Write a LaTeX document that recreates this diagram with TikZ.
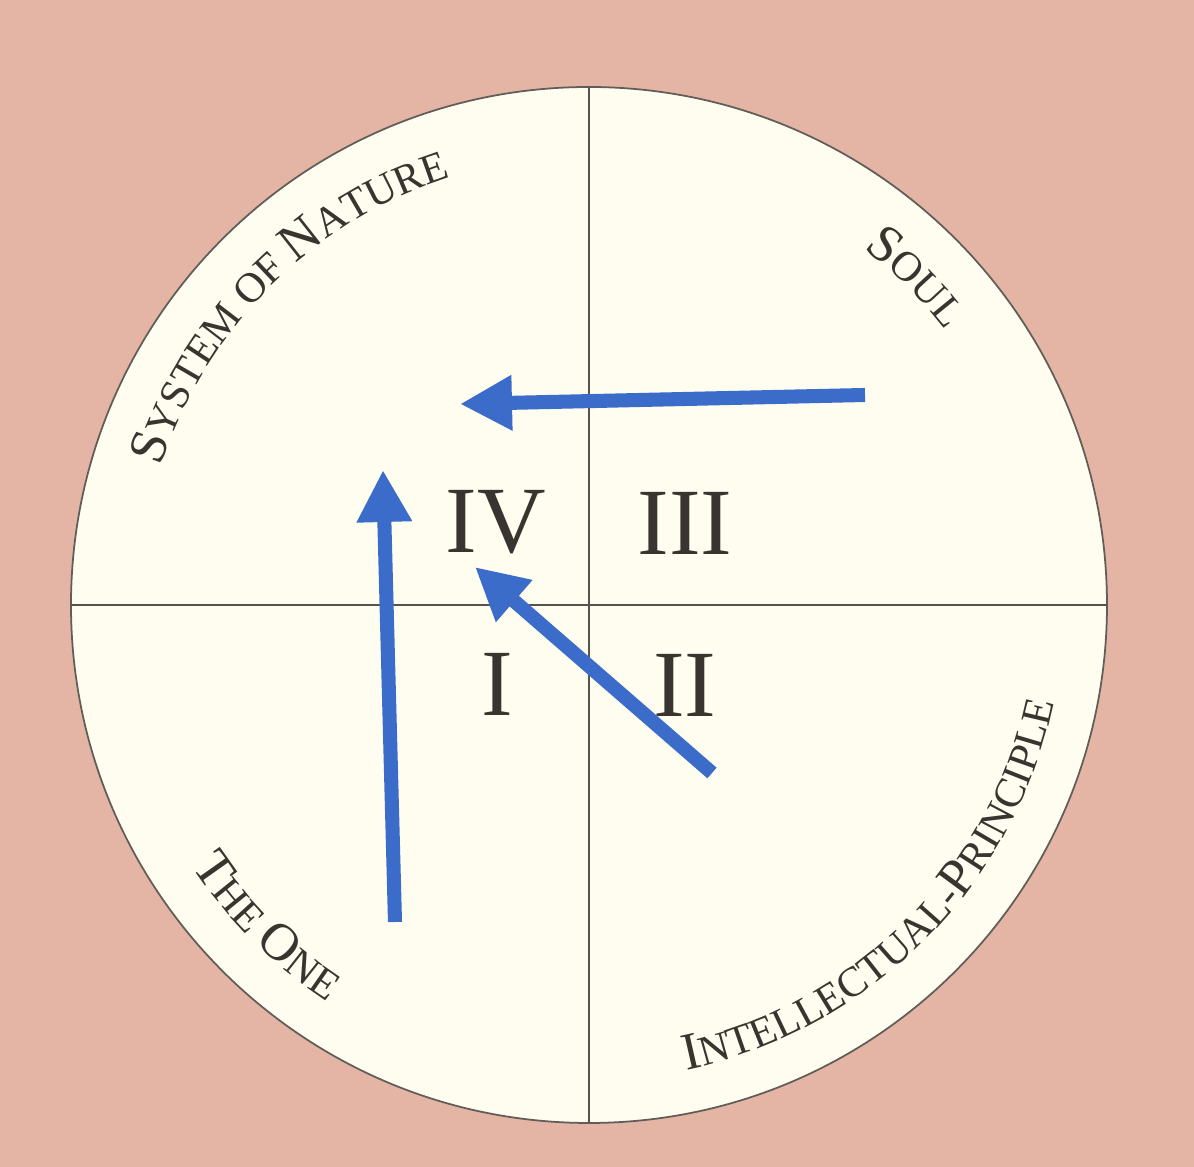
\documentclass[tikz,border=0pt]{standalone}
\usepackage{fontspec}
\setmainfont{Liberation Serif}
\usepackage{tikz}
\usetikzlibrary{arrows.meta, decorations.text}

\definecolor{paper}{RGB}{228,181,164}
\definecolor{cream}{RGB}{254,253,239}
\definecolor{ink}{RGB}{58,52,48}
\definecolor{flow}{RGB}{59,108,201}

% capitals and small capitals for the rim labels
\newcommand\rimcap{\fontsize{15}{18}\selectfont}
\newcommand\rimsmall{\fontsize{12}{14}\selectfont}

\begin{document}
\begin{tikzpicture}[
		rim/.style={draw=ink!80, line width=0.5pt, fill=cream},
		axis/.style={draw=ink!85, line width=0.6pt},
		num/.style={text=ink, font=\fontsize{27}{30}\selectfont, inner sep=0pt},
		flowarrow/.style={draw=flow, line width=4pt, -{Triangle[length=5.2mm, width=5.2mm]}},
		arctext/.style={decorate, decoration={text along path, text align=center,
				text color=ink, text={#1}}}
		]
		
		% Background
		\fill[paper] (-5.89,-5.62) rectangle (6.05,6.05);
		\useasboundingbox (-5.89,-5.62) rectangle (6.05,6.05);
		
		% Circle and quarters
		\draw[rim] (0,0) circle (5.18);
		\coordinate (top) at (90:5.18);
		\coordinate (bottom) at (-90:5.18);
		\coordinate (left) at (180:5.18);
		\coordinate (right) at (0:5.18);
		\draw[axis] (top) -- (bottom);
		\draw[axis] (left) -- (right);
		
		% Labels along the rim
		\path[arctext={|\rimcap|S|\rimsmall|YSTEM OF |\rimcap|N|\rimsmall|ATURE}]
		(170:4.5) arc[start angle=170, end angle=100, radius=4.5];
		\path[arctext={|\rimcap|S|\rimsmall|OUL}]
		(75:4.5) arc[start angle=75, end angle=15, radius=4.5];
		\path[arctext={|\rimcap|T|\rimsmall|HE |\rimcap|O|\rimsmall|NE}]
		(195:4.75) arc[start angle=195, end angle=255, radius=4.75];
		\path[arctext={|\rimcap|I|\rimsmall|NTELLECTUAL-|\rimcap|P|\rimsmall|RINCIPLE}]
		(-100:4.75) arc[start angle=-100, end angle=10, radius=4.75];
		
		% Numerals
		\node[num] (IV) at (-0.93,0.83) {IV};
		\node[num] (III) at (0.96,0.82) {III};
		\node[num] (I) at (-0.92,-0.79) {I};
		\node[num] (II) at (0.96,-0.80) {II};
		
		% Arrows
		\coordinate (soul) at (2.76,2.10);
		\coordinate (nature) at (-1.29,2.01);
		\coordinate (one) at (-1.94,-3.17);
		\coordinate (natureup) at (-2.06,1.35);
		\coordinate (intellect) at (1.23,-1.68);
		\coordinate (iv) at (-1.14,0.38);
		\draw[flowarrow] (soul) -- (nature);
		\draw[flowarrow] (one) -- (natureup);
		\draw[flowarrow] (intellect) -- (iv);
		
	\end{tikzpicture}
\end{document}
